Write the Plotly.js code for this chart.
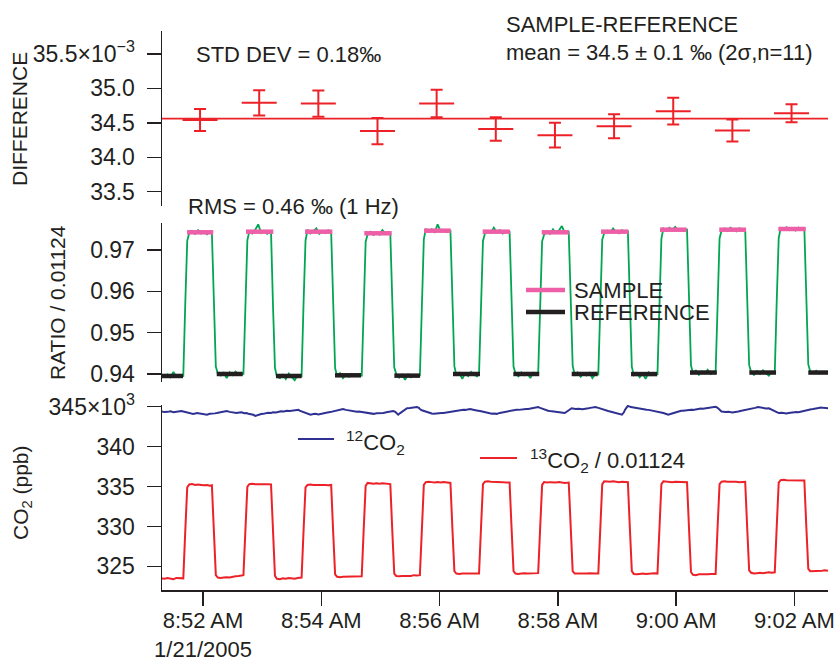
<!DOCTYPE html>
<html>
<head>
<meta charset="utf-8">
<script src="https://cdn.plot.ly/plotly-3.0.1.min.js"></script>
<style>
  html, body { margin: 0; padding: 0; background: #fff; }
  #chart { width: 839px; height: 660px; }
</style>
</head>
<body>
<div id="chart"></div>
<script>
// All times are seconds after 08:51:00 on 21 Jan 2005.

// --- Top panel: sample minus reference difference (x10^-3) ---
const diffTimes  = [57, 117, 177, 237, 297, 357, 417, 477, 537, 597, 657];
const diffValues = [34.54, 34.79, 34.78, 34.38, 34.78, 34.41, 34.32, 34.45, 34.67, 34.39, 34.64];
const diffErrors = [0.16, 0.185, 0.19, 0.19, 0.2, 0.17, 0.18, 0.175, 0.195, 0.16, 0.13];
const diffMean   = 34.56;

// --- Middle / bottom panels: shared 1 Hz time grid (sampled) ---
const tSec = [
  18,21,24,27,30,33,36,40,
  42,44,46,49,52,55,58,61,64,67,69,
  71,73,75,78,81,84,87,90,93,96,101,
  103,105,107,110,113,116,119,122,125,129,
  131,133,135,138,141,144,147,150,153,156,160,
  162,164,166,169,172,175,178,181,184,187,190,
  192,194,196,199,202,205,208,211,214,217,221,
  223,225,227,230,233,236,239,242,245,248,250,
  252,254,256,259,262,265,268,271,274,277,280,
  282,284,286,289,292,295,298,301,304,307,311,
  313,315,317,320,323,326,329,332,335,338,340,
  342,344,346,349,352,355,358,361,364,367,371,
  373,375,377,380,383,386,389,392,395,398,400,
  402,404,406,409,412,415,418,421,424,427,431,
  433,435,437,440,443,446,449,452,455,458,461,
  463,465,467,470,473,476,479,482,485,488,491,
  493,495,497,500,503,506,509,512,515,518,521,
  523,525,527,530,533,536,539,542,545,548,551,
  553,555,557,560,563,566,569,572,575,578,580,
  582,584,586,589,592,595,598,601,604,607,610,
  612,614,616,619,622,625,628,631,634,637,640,
  642,644,646,649,652,655,658,661,664,667,670,
  672,674,676,679,682,685,688,691,694
];

// isotope ratio normalised by 0.01124
const ratioValues = [
  0.9397,0.9394,0.9399,0.9392,0.9405,0.9393,0.9396,0.9395,
  0.9570,0.9722,0.9741,0.9746,0.9739,0.9748,0.9740,0.9745,0.9738,0.9744,0.9742,
  0.9560,0.9418,0.9401,0.9396,0.9403,0.9390,0.9404,0.9397,0.9406,0.9399,0.9400,
  0.9575,0.9724,0.9745,0.9740,0.9749,0.9762,0.9741,0.9746,0.9739,0.9745,
  0.9565,0.9415,0.9393,0.9390,0.9398,0.9388,0.9401,0.9393,0.9385,0.9397,0.9395,
  0.9572,0.9723,0.9749,0.9740,0.9746,0.9752,0.9739,0.9745,0.9741,0.9748,0.9743,
  0.9562,0.9414,0.9396,0.9402,0.9390,0.9399,0.9393,0.9400,0.9395,0.9398,0.9396,
  0.9568,0.9720,0.9738,0.9744,0.9736,0.9742,0.9737,0.9748,0.9739,0.9743,0.9740,
  0.9558,0.9416,0.9400,0.9391,0.9398,0.9386,0.9399,0.9392,0.9397,0.9394,0.9396,
  0.9574,0.9726,0.9751,0.9744,0.9750,0.9743,0.9762,0.9745,0.9749,0.9743,0.9746,
  0.9566,0.9419,0.9396,0.9403,0.9388,0.9402,0.9395,0.9405,0.9398,0.9394,0.9400,
  0.9573,0.9722,0.9740,0.9746,0.9741,0.9754,0.9743,0.9748,0.9740,0.9745,0.9744,
  0.9563,0.9418,0.9401,0.9394,0.9404,0.9397,0.9402,0.9390,0.9403,0.9399,0.9401,
  0.9570,0.9721,0.9737,0.9745,0.9739,0.9750,0.9741,0.9747,0.9758,0.9742,0.9744,
  0.9567,0.9420,0.9398,0.9404,0.9393,0.9401,0.9396,0.9403,0.9390,0.9400,0.9399,
  0.9575,0.9725,0.9741,0.9747,0.9742,0.9752,0.9744,0.9740,0.9748,0.9743,0.9745,
  0.9564,0.9417,0.9397,0.9403,0.9392,0.9401,0.9388,0.9404,0.9398,0.9402,0.9400,
  0.9576,0.9727,0.9752,0.9746,0.9754,0.9748,0.9756,0.9747,0.9751,0.9746,0.9749,
  0.9568,0.9421,0.9402,0.9408,0.9398,0.9406,0.9401,0.9410,0.9400,0.9404,0.9403,
  0.9577,0.9728,0.9747,0.9752,0.9746,0.9754,0.9749,0.9745,0.9753,0.9748,0.9750,
  0.9569,0.9422,0.9405,0.9398,0.9407,0.9400,0.9409,0.9402,0.9396,0.9405,0.9403,
  0.9578,0.9729,0.9753,0.9749,0.9755,0.9748,0.9752,0.9747,0.9754,0.9750,0.9752,
  0.9570,0.9423,0.9406,0.9402,0.9408,0.9401,0.9405,0.9403,0.9404
];

// 13CO2 / 0.01124, ppb (x10^3)
const co13Values = [
  323.5,323.45,323.55,323.5,323.4,323.55,323.5,323.5,
  329.4,334.9,335.25,335.3,335.2,335.25,335.2,335.15,335.2,335.1,335.15,
  329.3,323.9,323.6,323.55,323.6,323.65,323.6,323.7,323.75,323.8,323.9,
  329.5,335.0,335.3,335.35,335.3,335.3,335.35,335.3,335.3,335.25,
  329.4,323.8,323.45,323.4,323.5,323.45,323.55,323.5,323.45,323.55,323.6,
  329.5,334.9,335.2,335.25,335.2,335.2,335.25,335.2,335.2,335.15,335.2,
  329.4,324.0,323.7,323.65,323.7,323.7,323.75,323.7,323.7,323.75,323.75,
  329.6,335.1,335.45,335.4,335.35,335.4,335.35,335.4,335.35,335.3,335.3,
  329.5,324.1,323.8,323.75,323.8,323.8,323.85,323.8,323.9,323.85,323.9,
  329.7,335.2,335.55,335.6,335.55,335.5,335.55,335.5,335.55,335.5,335.45,
  329.7,324.4,324.1,324.05,324.1,324.1,324.15,324.1,324.1,324.15,324.1,
  329.8,335.3,335.6,335.65,335.6,335.6,335.55,335.6,335.55,335.5,335.5,
  329.8,324.4,324.1,324.05,324.1,324.15,324.1,324.1,324.15,324.1,324.15,
  329.8,335.2,335.55,335.5,335.55,335.5,335.5,335.55,335.5,335.45,335.5,
  329.8,324.4,324.1,324.1,324.05,324.1,324.1,324.15,324.1,324.1,324.1,
  329.9,335.3,335.65,335.6,335.6,335.65,335.6,335.55,335.6,335.6,335.55,
  329.8,324.4,324.05,324.0,324.05,324.1,324.05,324.1,324.1,324.15,324.1,
  329.9,335.3,335.65,335.6,335.6,335.55,335.6,335.6,335.55,335.6,335.55,
  329.8,324.3,323.95,323.9,324.0,324.0,323.95,324.0,324.05,324.1,324.05,
  329.9,335.3,335.6,335.65,335.6,335.6,335.65,335.6,335.55,335.6,335.6,
  329.9,324.5,324.2,324.1,324.15,324.2,324.15,324.2,324.25,324.2,324.25,
  330.0,335.5,335.8,335.85,335.8,335.8,335.75,335.8,335.8,335.75,335.75,
  330.0,324.7,324.4,324.4,324.45,324.4,324.45,324.5,324.45
];

// 12CO2, ppb (x10^3)
const co12Times = [
  18,21,24,27,30,33,35,38,40,43,
  45,48,50,54,57,61,64,67,69,72,
  74,77,79,82,84,87,89,92,94,97,
  99,102,104,106,108,111,113,115,117,119,
  121,124,126,129,131,134,136,139,142,145,
  148,152,155,157,158,160,162,164,165,167,
  169,172,174,177,179,182,185,189,192,195,
  197,200,202,205,207,210,213,216,218,221,
  223,226,228,231,233,236,238,241,243,246,
  248,251,253,255,256,257,258,260,262,265,
  267,270,272,275,277,279,280,282,284,287,
  289,292,294,297,299,302,304,307,309,312,
  314,316,317,319,321,324,326,329,331,334,
  336,339,341,344,346,349,351,353,355,357,
  358,361,364,367,370,372,375,378,380,383,
  385,388,390,393,395,398,400,402,404,406,
  407,410,412,415,417,420,422,425,427,429,
  431,433,434,438,441,445,448,451,453,456,
  458,461,463,466,468,471,473,476,478,480,
  482,484,485,487,488,490,491,494,496,499,
  502,505,507,510,512,515,517,520,522,525,
  527,530,532,535,537,540,542,545,547,550,
  552,555,557,560,562,565,567,570,573,575,
  577,579,580,582,583,585,586,590,593,597,
  600,603,605,608,610,614,617,620,623,626,
  628,631,634,637,639,642,644,647,649,652,
  654,657,659,662,664,667,669,672,674,677,
  679,682,684,687,689,692,694
];
const co12Values = [
  344.4,344.32,344.35,344.42,344.3,344.38,344.4,344.46,344.4,344.3,
  344.25,344.15,344.1,344.2,344.15,344.05,344.0,344.12,344.1,344.16,
  344.2,344.28,344.3,344.38,344.45,344.35,344.3,344.22,344.2,344.28,
  344.3,344.18,344.2,344.12,344.1,343.98,343.85,343.95,344.0,344.08,
  344.1,344.2,344.25,344.22,344.3,344.28,344.35,344.42,344.4,344.5,
  344.45,344.52,344.55,344.6,344.5,344.4,344.3,344.2,344.15,344.05,
  344.0,344.08,344.1,344.02,344.1,344.18,344.25,344.32,344.4,344.48,
  344.55,344.62,344.7,344.6,344.55,344.5,344.45,344.38,344.4,344.35,
  344.3,344.25,344.2,344.15,344.1,344.18,344.2,344.15,344.2,344.3,
  344.35,344.42,344.45,344.35,344.2,344.05,344.0,344.2,344.4,344.65,
  344.8,344.82,344.85,344.9,344.95,344.85,344.7,344.55,344.45,344.3,
  344.2,344.14,344.1,344.18,344.15,344.22,344.2,344.27,344.3,344.38,
  344.45,344.52,344.5,344.58,344.55,344.62,344.6,344.68,344.7,344.62,
  344.6,344.5,344.45,344.35,344.3,344.24,344.2,344.12,344.15,344.08,
  344.1,344.22,344.3,344.38,344.45,344.52,344.55,344.62,344.6,344.68,
  344.65,344.72,344.7,344.78,344.8,344.9,344.95,344.85,344.75,344.62,
  344.55,344.5,344.45,344.38,344.4,344.32,344.3,344.24,344.2,344.35,
  344.5,344.7,344.8,344.72,344.75,344.68,344.7,344.8,344.85,344.92,
  344.95,344.85,344.75,344.62,344.55,344.45,344.4,344.28,344.2,344.12,
  344.05,343.98,344.0,344.3,344.6,344.95,345.1,344.95,344.9,344.82,
  344.8,344.72,344.7,344.62,344.6,344.52,344.5,344.42,344.4,344.28,
  344.2,344.08,344.0,344.12,344.2,344.32,344.4,344.48,344.5,344.58,
  344.55,344.62,344.6,344.68,344.7,344.78,344.75,344.82,344.8,344.9,
  344.95,345.02,345.0,344.85,344.7,344.5,344.4,344.32,344.35,344.28,
  344.3,344.4,344.45,344.52,344.55,344.68,344.75,344.85,344.95,344.88,
  344.85,344.78,344.8,344.65,344.5,344.32,344.2,344.24,344.2,344.16,
  344.2,344.28,344.25,344.32,344.3,344.4,344.45,344.52,344.6,344.68,
  344.7,344.78,344.8,344.88,344.85,344.78,344.8
];

// averaged plateaus used for the difference calculation
const sampleStart = [43.8, 103.6, 163.5, 223.6, 284.2, 343.7, 403.6, 463.7, 523.6, 583.7, 643.6];
const sampleEnd   = [70.4, 131.3, 191.2, 251.4, 311.3, 371.4, 431.3, 491.4, 550.7, 610.8, 671.4];
const sampleLevel = [0.97428, 0.97443, 0.97443, 0.97404, 0.97467, 0.97443, 0.97428, 0.97443, 0.97491, 0.97491, 0.97508];
const refStart = [18.4, 73.9, 134, 193.9, 254.1, 313.6, 374.8, 434, 494.2, 554, 614.2, 674];
const refEnd   = [39.7, 100.3, 160.1, 220.3, 280.1, 341, 401.1, 460.4, 520.8, 581.2, 641.3, 694];
const refLevel = [0.93952, 0.9400, 0.93952, 0.93968, 0.9396, 0.9400, 0.9400, 0.9400, 0.93998, 0.94035, 0.94035, 0.94035];

// axis ticks
const timeTicks = [60, 180, 300, 420, 540, 660];
const timeTickLabels = ['8:52 AM<br>1/21/2005', '8:54 AM', '8:56 AM', '8:58 AM', '9:00 AM', '9:02 AM'];
const diffTicks = [33.5, 34.0, 34.5, 35.0, 35.5];
const diffTickLabels = ['33.5', '34.0', '34.5', '35.0', '35.5×10<sup>−3</sup>'];
const ratioTicks = [0.94, 0.95, 0.96, 0.97];
const ratioTickLabels = ['0.94', '0.95', '0.96', '0.97'];
const co2Ticks = [325, 330, 335, 340, 345];
const co2TickLabels = ['325', '330', '335', '340', '345×10<sup>3</sup>'];

// ---------------------------------------------------------------
function pad2(n) { return String(n).padStart(2, '0'); }
function stamp(s) {
  const total = 8 * 3600 + 51 * 60 + s;
  const h = Math.floor(total / 3600);
  const m = Math.floor((total % 3600) / 60);
  const sec = total - h * 3600 - m * 60;
  return '2005-01-21 ' + pad2(h) + ':' + pad2(m) + ':' + sec.toFixed(3).padStart(6, '0');
}
function segments(starts, ends, levels) {
  const x = [], y = [];
  starts.forEach((s, i) => {
    x.push(stamp(s), stamp(ends[i]), null);
    y.push(levels[i], levels[i], null);
  });
  return { x, y };
}

const INK = '#231f20';
const RED = '#ec2228';
const GREEN = '#00a651';
const PINK = '#ee5fa7';
const BLUE = '#2e3192';
const FONT = 'Liberation Sans, Arial, Helvetica, sans-serif';

const sampleSeg = segments(sampleStart, sampleEnd, sampleLevel);
const refSeg = segments(refStart, refEnd, refLevel);

const traces = [
  {
    x: diffTimes.map(stamp), y: diffValues, xaxis: 'x', yaxis: 'y',
    type: 'scatter', mode: 'markers',
    marker: { symbol: 'line-ew', size: 25, color: RED, line: { color: RED, width: 2 } },
    error_y: { type: 'data', array: diffErrors, visible: true, color: RED, thickness: 2, width: 6 }
  },
  {
    x: tSec.map(stamp), y: ratioValues, xaxis: 'x', yaxis: 'y2',
    type: 'scatter', mode: 'lines', line: { color: GREEN, width: 1.8 }
  },
  {
    x: sampleSeg.x, y: sampleSeg.y, xaxis: 'x', yaxis: 'y2',
    type: 'scatter', mode: 'lines', line: { color: PINK, width: 4.5 }, name: 'SAMPLE'
  },
  {
    x: refSeg.x, y: refSeg.y, xaxis: 'x', yaxis: 'y2',
    type: 'scatter', mode: 'lines', line: { color: INK, width: 4.5 }, name: 'REFERENCE'
  },
  {
    x: co12Times.map(stamp), y: co12Values, xaxis: 'x', yaxis: 'y3',
    type: 'scatter', mode: 'lines', line: { color: BLUE, width: 2 }
  },
  {
    x: tSec.map(stamp), y: co13Values, xaxis: 'x', yaxis: 'y3',
    type: 'scatter', mode: 'lines', line: { color: RED, width: 2 }
  }
];

// plot area spans pixels 162..828 horizontally and 31..590 vertically
const L = 162, R = 828, T = 31, B = 590;
const px = v => (v - L) / (R - L);
const py = v => (B - v) / (B - T);

const yCommon = {
  ticks: 'outside', ticklen: 14, tickwidth: 1.5, tickcolor: INK,
  showline: true, linewidth: 1.5, linecolor: INK,
  showgrid: false, zeroline: false, anchor: 'x',
  tickfont: { family: FONT, size: 23, color: INK }, ticklabelstandoff: 7,
  tickmode: 'array'
};

function label(text, x, y, extra) {
  return Object.assign({
    text, xref: 'paper', yref: 'paper', x: px(x), y: py(y),
    xanchor: 'left', yanchor: 'middle', showarrow: false,
    font: { family: FONT, size: 22, color: INK }
  }, extra || {});
}
function axisTitle(text, x, y) {
  return label(text, x, y, { xanchor: 'center', textangle: -90, font: { family: FONT, size: 21, color: INK } });
}
function keyLine(x0, x1, y, color, width) {
  return { type: 'line', xref: 'paper', yref: 'paper', x0: px(x0), x1: px(x1), y0: py(y), y1: py(y),
           line: { color, width } };
}

const layout = {
  width: 839, height: 660,
  margin: { l: L, r: 839 - R, t: T, b: 660 - B, pad: 0 },
  paper_bgcolor: '#fff', plot_bgcolor: '#fff',
  showlegend: false,
  font: { family: FONT, color: INK },
  xaxis: {
    type: 'date', anchor: 'y3',
    range: [stamp(18.4), stamp(694)],
    tickmode: 'array', tickvals: timeTicks.map(stamp), ticktext: timeTickLabels,
    ticks: 'outside', ticklen: 14, tickwidth: 1.5, tickcolor: INK,
    showline: true, linewidth: 1.5, linecolor: INK,
    showgrid: false, zeroline: false,
    tickfont: { family: FONT, size: 22, color: INK }, ticklabelstandoff: -4
  },
  yaxis: Object.assign({}, yCommon, {
    domain: [py(206), 1], range: [33.292, 35.834],
    tickvals: diffTicks, ticktext: diffTickLabels
  }),
  yaxis2: Object.assign({}, yCommon, {
    domain: [py(382), py(223)], range: [0.93806, 0.97653],
    tickvals: ratioTicks, ticktext: ratioTickLabels
  }),
  yaxis3: Object.assign({}, yCommon, {
    domain: [0, py(405)], range: [322.04, 345.21],
    tickvals: co2Ticks, ticktext: co2TickLabels
  }),
  shapes: [
    { type: 'line', xref: 'paper', yref: 'y', x0: 0, x1: 1, y0: diffMean, y1: diffMean,
      line: { color: RED, width: 1.8 } },
    keyLine(526, 565, 290, PINK, 4.5),
    keyLine(526, 565, 312, INK, 4.5),
    keyLine(298, 334, 439, BLUE, 2),
    keyLine(480, 517, 458, RED, 2)
  ],
  annotations: [
    label('STD DEV = 0.18‰', 194, 55),
    label('SAMPLE-REFERENCE', 504, 25),
    label('mean = 34.5 ± 0.1 ‰ (2σ,n=11)', 504, 52),
    label('RMS = 0.46 ‰ (1 Hz)', 186, 206),
    label('SAMPLE', 572, 290),
    label('REFERENCE', 572, 312),
    label('<sup>12</sup>CO<sub>2</sub>', 344, 442),
    label('<sup>13</sup>CO<sub>2</sub> / 0.01124', 528, 460),
    axisTitle('DIFFERENCE', 19, 119),
    axisTitle('RATIO / 0.01124', 57, 303),
    axisTitle('CO<sub>2</sub> (ppb)', 22, 493)
  ]
};

Plotly.newPlot('chart', traces, layout, { displayModeBar: false, staticPlot: true });
</script>
</body>
</html>
